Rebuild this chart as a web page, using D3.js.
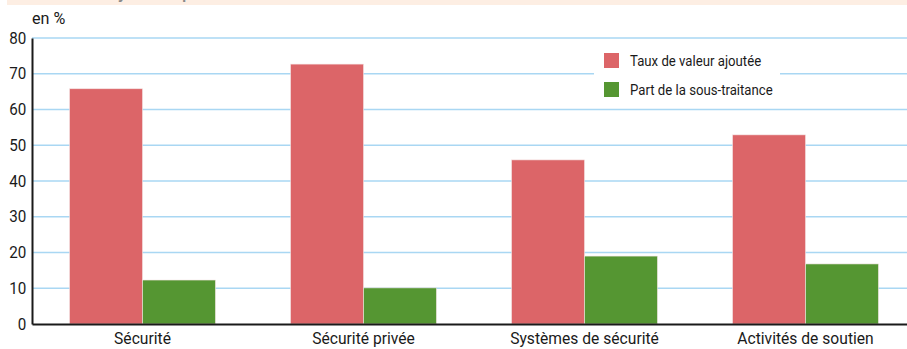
<!DOCTYPE html>
<html>
<head>
<meta charset="utf-8">
<script src="https://cdn.jsdelivr.net/npm/d3@7"></script>
<style>
  body { margin: 0; background: #fff; }
  svg { display: block; font-family: Roboto, "Liberation Sans", sans-serif; }
</style>
</head>
<body>
<svg id="chart" width="907" height="349"></svg>
<script>
const categories = ["Sécurité", "Sécurité privée", "Systèmes de sécurité", "Activités de soutien"];
const seriesNames = ["Taux de valeur ajoutée", "Part de la sous-traitance"];
const valeurAjoutee = [65.8, 72.7, 45.9, 52.9];
const sousTraitance = [12.3, 10.1, 19.0, 16.8];
const yTicks = [0, 10, 20, 30, 40, 50, 60, 70, 80];
const colors = ["#dc6568", "#559632"];

const width = 907, height = 349;
const margin = { top: 38, left: 32, bottom: 25 };
const svg = d3.select("#chart");

// title band, mostly cut off at the top
svg.append("rect").attr("x", 7).attr("y", 0).attr("width", width - 7).attr("height", 5).attr("fill", "#fdeee3");
svg.append("text").attr("x", 10).attr("y", -1)
  .attr("font-weight", "bold").attr("font-size", 15).attr("fill", "#8a8a8a")
  .text("Taux de valeur ajoutée et part de la sous-traitance dans les activités de sécurité en 2015");

const y = d3.scaleLinear().domain([0, 80]).range([height - margin.bottom, margin.top]);
const x = d3.scaleBand().domain(categories).range([margin.left, margin.left + 4 * 221])
  .paddingInner(0.34).paddingOuter(0.17);
const xs = d3.scaleBand().domain(seriesNames).range([0, x.bandwidth()]);

// grid
svg.append("g").selectAll("line").data(yTicks.filter(d => d > 0)).join("line")
  .attr("x1", margin.left).attr("x2", width)
  .attr("y1", d => y(d)).attr("y2", d => y(d))
  .attr("stroke", "#a9d7f3").attr("stroke-width", 1.5);

// legend box hides grid
svg.append("rect").attr("x", 594).attr("y", 45).attr("width", 186).attr("height", 58).attr("fill", "#fff");

// bars
const rows = categories.map((c, i) => ({ c, vals: [valeurAjoutee[i], sousTraitance[i]] }));
const g = svg.append("g").selectAll("g").data(rows).join("g")
  .attr("transform", d => `translate(${x(d.c)},0)`);
g.selectAll("rect").data(d => d.vals.map((v, j) => ({ s: seriesNames[j], v, j }))).join("rect")
  .attr("x", d => xs(d.s)).attr("width", xs.bandwidth())
  .attr("y", d => y(d.v)).attr("height", d => y(0) - y(d.v))
  .attr("fill", d => colors[d.j])
  .attr("stroke", "#f4e4e4").attr("stroke-width", 0.6);

// y axis
const yAxis = d3.axisLeft(y).tickValues(yTicks).tickSize(0).tickPadding(6);
svg.append("g").attr("transform", `translate(${margin.left},0)`).call(yAxis)
  .call(a => a.select(".domain").attr("stroke", "#1a1a1a").attr("stroke-width", 2))
  .call(a => a.selectAll("text").attr("font-size", 16).attr("fill", "#1a1a1a")
    .attr("font-family", "Roboto").attr("transform", "scale(0.95,1)"));

// x axis
const xAxis = d3.axisBottom(x).tickSize(0).tickPadding(8);
svg.append("g").attr("transform", `translate(0,${y(0)})`).call(xAxis)
  .call(a => a.select(".domain").attr("stroke", "#1a1a1a").attr("stroke-width", 2))
  .call(a => a.selectAll("text").attr("font-size", 17).attr("fill", "#1a1a1a")
    .attr("font-family", "Roboto").attr("transform", "scale(0.92,1)"));

svg.append("text").attr("transform", "translate(32,24) scale(0.95,1)")
  .attr("font-size", 17).attr("fill", "#1a1a1a").text("en %");

// legend
const leg = svg.append("g").selectAll("g").data(seriesNames).join("g")
  .attr("transform", (d, i) => `translate(604,${53 + i * 29})`);
leg.append("rect").attr("width", 15).attr("height", 15).attr("fill", (d, i) => colors[i]);
leg.append("text").attr("transform", "translate(26,12.5) scale(0.88,1)")
  .attr("font-size", 15).attr("fill", "#1a1a1a").text(d => d);
</script>
</body>
</html>
